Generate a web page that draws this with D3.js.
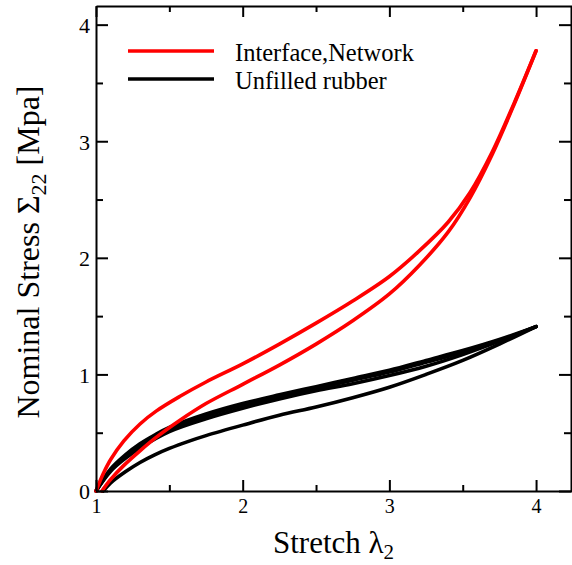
<!DOCTYPE html>
<html><head><meta charset="utf-8">
<script src="https://cdn.jsdelivr.net/npm/d3@7"></script>
<style>
body{margin:0;background:#fff;}
svg{display:block;}
text{font-family:"Liberation Serif","Times New Roman",serif;fill:#000;}
</style></head>
<body>
<script>
// ---- data ----
const xTicks = [1, 2, 3, 4];
const xMinor = [1.5, 2.5, 3.5];
const yTicks = [0, 1, 2, 3, 4];
const yMinor = [0.5, 1.5, 2.5, 3.5];

const redLoadX   = [1.0, 1.05, 1.1, 1.19, 1.3, 1.41, 1.57, 1.75, 2.0, 2.25, 2.5, 2.75, 3.0, 3.2, 3.4, 3.55, 3.7, 3.85, 4.0];
const redLoadY   = [0, 0.15, 0.27, 0.43, 0.575, 0.685, 0.81, 0.935, 1.09, 1.26, 1.44, 1.63, 1.84, 2.055, 2.305, 2.56, 2.905, 3.325, 3.776];
const redUnloadX = [1.04, 1.1, 1.19, 1.3, 1.41, 1.57, 1.75, 2.0, 2.25, 2.5, 2.75, 3.0, 3.2, 3.4, 3.55, 3.7, 3.85, 4.0];
const redUnloadY = [0, 0.10, 0.22, 0.345, 0.46, 0.605, 0.75, 0.915, 1.08, 1.26, 1.46, 1.69, 1.93, 2.22, 2.515, 2.885, 3.315, 3.776];

const blkTopX  = [1.0, 1.1, 1.2, 1.3, 1.4, 1.5, 1.75, 2.0, 2.25, 2.5, 2.75, 3.0, 3.25, 3.5, 3.75, 4.0];
const blkTopY  = [0, 0.19, 0.31, 0.405, 0.48, 0.545, 0.66, 0.75, 0.825, 0.895, 0.965, 1.035, 1.12, 1.205, 1.30, 1.41];
const blkTop2Y = [0, 0.18, 0.295, 0.39, 0.465, 0.53, 0.645, 0.735, 0.81, 0.88, 0.95, 1.02, 1.105, 1.19, 1.29, 1.41];
const blkMidX  = [1.0, 1.1, 1.2, 1.3, 1.5, 1.75, 2.0, 2.25, 2.5, 2.75, 3.0, 3.25, 3.5, 3.75, 4.0];
const blkMidY  = [0, 0.17, 0.28, 0.37, 0.51, 0.62, 0.71, 0.79, 0.86, 0.92, 0.99, 1.07, 1.17, 1.285, 1.41];
const blkLowX  = [1.05, 1.1, 1.2, 1.3, 1.4, 1.5, 1.64, 1.75, 2.0, 2.25, 2.5, 2.75, 3.0, 3.25, 3.5, 3.75, 4.0];
const blkLowY  = [0, 0.07, 0.165, 0.245, 0.31, 0.365, 0.43, 0.475, 0.565, 0.65, 0.72, 0.80, 0.89, 1.00, 1.12, 1.26, 1.41];

const legendLabels = ["Interface,Network", "Unfilled rubber"];
const legendColors = ["#ff0000", "#000000"];

// ---- chart ----
const W = 572, H = 565;
const svg = d3.select("body").append("svg").attr("width", W).attr("height", H);

const x = d3.scaleLinear().domain([1, 4.245]).range([96, 572]);
const y = d3.scaleLinear().domain([0, 4.16]).range([491, 6]);

function series(xs, ys){ return xs.map((v,i)=>[v, ys[i]]); }
const line = d3.line().x(d=>x(d[0])).y(d=>y(d[1])).curve(d3.curveCatmullRom.alpha(0.5));

const curves = [
  {d: series(blkLowX, blkLowY), c: "#000", w: 3.6},
  {d: series(blkMidX, blkMidY), c: "#000", w: 3.6},
  {d: series(blkTopX, blkTop2Y), c: "#000", w: 3.6},
  {d: series(blkTopX, blkTopY), c: "#000", w: 3.6},
  {d: series(redUnloadX, redUnloadY), c: "#ff0000", w: 3.6},
  {d: series(redLoadX, redLoadY), c: "#ff0000", w: 3.6},
];
svg.append("g").selectAll("path").data(curves).join("path")
  .attr("d", c=>line(c.d)).attr("fill","none")
  .attr("stroke", c=>c.c).attr("stroke-width", c=>c.w)
  .attr("stroke-linecap","round").attr("stroke-linejoin","round");

// axes (ticks inward)
function styleAxis(g){
  g.select(".domain").attr("stroke","#000").attr("stroke-width",2);
  g.selectAll(".tick line").attr("stroke","#000").attr("stroke-width",2);
}
const gB = svg.append("g").attr("transform",`translate(0,${y(0)})`)
  .call(d3.axisBottom(x).tickValues(xTicks).tickSizeInner(-11).tickSizeOuter(0).tickPadding(0).tickFormat(d3.format("d")));
styleAxis(gB);
gB.selectAll(".tick text").attr("font-size",20).attr("y",22).attr("dy",0);
svg.append("g").attr("transform",`translate(0,${y(0)})`)
  .call(d3.axisBottom(x).tickValues(xMinor).tickSizeInner(-6).tickSizeOuter(0).tickFormat(""))
  .call(styleAxis).select(".domain").remove();

const gT = svg.append("g").attr("transform",`translate(0,${y.range()[1]})`)
  .call(d3.axisTop(x).tickValues(xTicks).tickSizeInner(-11).tickSizeOuter(0).tickFormat(""));
styleAxis(gT);
svg.append("g").attr("transform",`translate(0,${y.range()[1]})`)
  .call(d3.axisTop(x).tickValues(xMinor).tickSizeInner(-6).tickSizeOuter(0).tickFormat(""))
  .call(styleAxis).select(".domain").remove();

const gL = svg.append("g").attr("transform",`translate(${x(1)},0)`)
  .call(d3.axisLeft(y).tickValues(yTicks).tickSizeInner(-12).tickSizeOuter(0).tickPadding(6).tickFormat(d3.format("d")));
styleAxis(gL);
gL.selectAll(".tick text").attr("font-size",22).attr("x",-6).attr("dy","0.36em");
svg.append("g").attr("transform",`translate(${x(1)},0)`)
  .call(d3.axisLeft(y).tickValues(yMinor).tickSizeInner(-7).tickSizeOuter(0).tickFormat(""))
  .call(styleAxis).select(".domain").remove();

const gR = svg.append("g").attr("transform",`translate(${x.range()[1]-1},0)`)
  .call(d3.axisRight(y).tickValues(yTicks).tickSizeInner(-12).tickSizeOuter(0).tickFormat(""));
styleAxis(gR);
svg.append("g").attr("transform",`translate(${x.range()[1]-1},0)`)
  .call(d3.axisRight(y).tickValues(yMinor).tickSizeInner(-7).tickSizeOuter(0).tickFormat(""))
  .call(styleAxis).select(".domain").remove();

// axis titles
const xt = svg.append("text").attr("x",273).attr("y",553).attr("font-size",31);
xt.append("tspan").text("Stretch λ");
xt.append("tspan").attr("font-size",21).attr("dy",6).text("2");

const yt = svg.append("text").attr("transform","translate(39,252) rotate(-90)")
  .attr("text-anchor","middle").attr("font-size",32);
yt.append("tspan").text("Nominal Stress Σ");
yt.append("tspan").attr("font-size",22).attr("dy",7).text("22");
yt.append("tspan").attr("dy",-7).text(" [Mpa]");

// legend
const lg = svg.append("g").selectAll("g").data(legendLabels).join("g")
  .attr("transform",(d,i)=>`translate(0,${51 + i*28})`);
lg.append("line").attr("x1",128).attr("x2",214).attr("y1",0).attr("y2",0)
  .attr("stroke",(d,i)=>legendColors[i]).attr("stroke-width",3.5);
lg.append("text").attr("x",235).attr("y",9.5).attr("font-size",24.5).text(d=>d);
</script>
</body></html>
